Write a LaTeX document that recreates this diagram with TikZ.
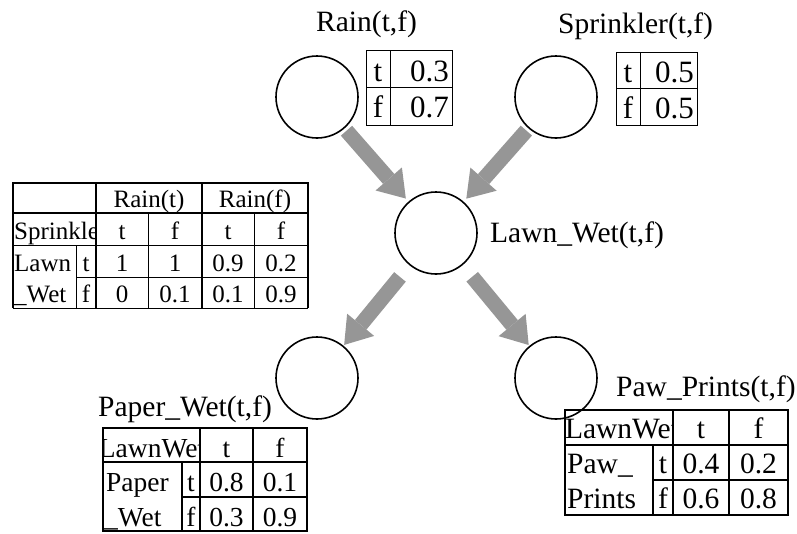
\documentclass[tikz,border=0pt]{standalone}
\usepackage{fontspec}
\setmainfont{Liberation Serif}
\usetikzlibrary{arrows.meta}
\definecolor{arrowgray}{RGB}{150,150,150}

\begin{document}
\begin{tikzpicture}[x=1pt,y=-1pt,
  bnode/.style={circle,draw,line width=1.6pt,minimum size=82pt,inner sep=0pt},
  link/.style={draw=arrowgray,line width=15pt,
    -{Triangle[length=26pt,width=35pt,line width=0pt]}},
  lab/.style={anchor=base west,inner sep=0pt,font=\fontsize{29.5}{31}\selectfont},
  pcell/.style={anchor=base,inner sep=0pt,font=\fontsize{31}{33}\selectfont},
  bcell/.style={anchor=base,inner sep=0pt,font=\fontsize{27.5}{29}\selectfont},
  wcell/.style={anchor=base,inner sep=0pt,font=\fontsize{29.5}{31}\selectfont},
  lcell/.style={anchor=base,inner sep=0pt,font=\fontsize{25}{27}\selectfont},
  thinrule/.style={line width=1pt},
  thickrule/.style={line width=1.8pt}]
\useasboundingbox (0,0) rectangle (797,533);
%nodes
\node[bnode] (rain) at (317,97) {};
\node[bnode] (sprinkler) at (556,97) {};
\node[bnode] (lawn) at (436,233) {};
\node[bnode] (paper) at (317,378) {};
\node[bnode] (paw) at (556,378) {};
%node labels
\node[lab] (rainlab) at (316,31) {Rain(t,f)};
\node[lab] (sprinklerlab) at (558,33) {Sprinkler(t,f)};
\node[lab] (lawnlab) at (490,242) {Lawn\_Wet(t,f)};
\node[lab] (paperlab) at (98,416) {Paper\_Wet(t,f)};
\node[lab] (pawlab) at (616,396) {Paw\_Prints(t,f)};
%links
\draw[link,shorten <=3pt,shorten >=4pt] (rain) -- (lawn);
\draw[link,shorten <=3pt,shorten >=4pt] (sprinkler) -- (lawn);
\draw[link,shorten <=15pt,shorten >=1pt] (lawn) -- (paper);
\draw[link,shorten <=15pt,shorten >=1pt] (lawn) -- (paw);
%rain table
\draw[thinrule] (366,50) rectangle (452,125) (366,87) -- (452,87) (390,50) -- (390,125);
\node[pcell] (raint) at (378,81) {t};
\node[pcell,anchor=base east] (raintv) at (449,81) {0.3};
\node[pcell] (rainf) at (378,117) {f};
\node[pcell,anchor=base east] (rainfv) at (449,117) {0.7};
%sprinkler table
\draw[thinrule] (616,52) rectangle (697,125) (616,88) -- (697,88) (640,52) -- (640,125);
\node[pcell] (sprt) at (628,82) {t};
\node[pcell,anchor=base east] (sprtv) at (694,82) {0.5};
\node[pcell] (sprf) at (628,118) {f};
\node[pcell,anchor=base east] (sprfv) at (694,118) {0.5};
%lawn table
\draw[thickrule] (13,308) -- (13,183) -- (308,183) -- (308,308);
\draw[thinrule] (13,308) -- (308,308);
\draw[thickrule] (13,213) -- (308,213) (96,183) -- (96,308) (202,183) -- (202,308);
\draw[thinrule] (13,245) -- (308,245) (76,277) -- (308,277)
  (76,245) -- (76,308) (148,213) -- (148,308) (254,213) -- (254,308);
\node[lcell] (lhrt) at (149,207) {Rain(t)};
\node[lcell] (lhrf) at (255,207) {Rain(f)};
\begin{scope}
  \clip (13,213) rectangle (96,245);
  \node[lcell,anchor=base west] (lhspr) at (14,239) {Sprinkler};
\end{scope}
\node[lcell,anchor=base west] (lhlawn) at (14,271) {Lawn};
\node[lcell,anchor=base west] (lhwet) at (14,302) {\_Wet};
\node[lcell] (lt) at (86,271) {t};
\node[lcell] (lf) at (86,302) {f};
\foreach \x/\s/\a/\b [count=\i] in {122/t/1/0, 175/f/1/0.1, 228/t/0.9/0.1, 281/f/0.2/0.9}
{
  \node[lcell] (ls\i) at (\x,239) {\s};
  \node[lcell] (lt\i) at (\x,271) {\a};
  \node[lcell] (lf\i) at (\x,302) {\b};
}
%paper table
\draw[thickrule] (103,428) rectangle (307,531) (103,462) -- (307,462) (182,497) -- (307,497)
  (200,428) -- (200,531) (253,428) -- (253,531) (182,462) -- (182,531);
\begin{scope}
  \clip (103,428) rectangle (200,462);
  \node[bcell] (phlawn) at (152,457) {LawnWet};
\end{scope}
\node[bcell] (pht) at (226.5,457) {t};
\node[bcell] (phf) at (280,457) {f};
\node[bcell,anchor=base west] (pp) at (106,491) {Paper};
\node[bcell,anchor=base west] (pw) at (104,526) {\_Wet};
\foreach \y/\s/\a/\b [count=\i] in {491/t/0.8/0.1, 526/f/0.3/0.9}
{
  \node[bcell] (ps\i) at (191,\y) {\s};
  \node[bcell] (pa\i) at (226.5,\y) {\a};
  \node[bcell] (pb\i) at (280,\y) {\b};
}
%paw table
\draw[thickrule] (565,410) rectangle (788,515) (565,445) -- (788,445) (653,480) -- (788,480)
  (673,410) -- (673,515) (729,410) -- (729,515) (653,445) -- (653,515);
\begin{scope}
  \clip (565,410) rectangle (673,445);
  \node[wcell] (whlawn) at (622,438) {LawnWet};
\end{scope}
\node[wcell] (wht) at (701,438) {t};
\node[wcell] (whf) at (758.5,438) {f};
\node[wcell,anchor=base west] (wp) at (567,473) {Paw\_};
\node[wcell,anchor=base west] (wr) at (567,508) {Prints};
\foreach \y/\s/\a/\b [count=\i] in {473/t/0.4/0.2, 508/f/0.6/0.8}
{
  \node[wcell] (ws\i) at (663,\y) {\s};
  \node[wcell] (wa\i) at (701,\y) {\a};
  \node[wcell] (wb\i) at (758.5,\y) {\b};
}
\end{tikzpicture}
\end{document}
